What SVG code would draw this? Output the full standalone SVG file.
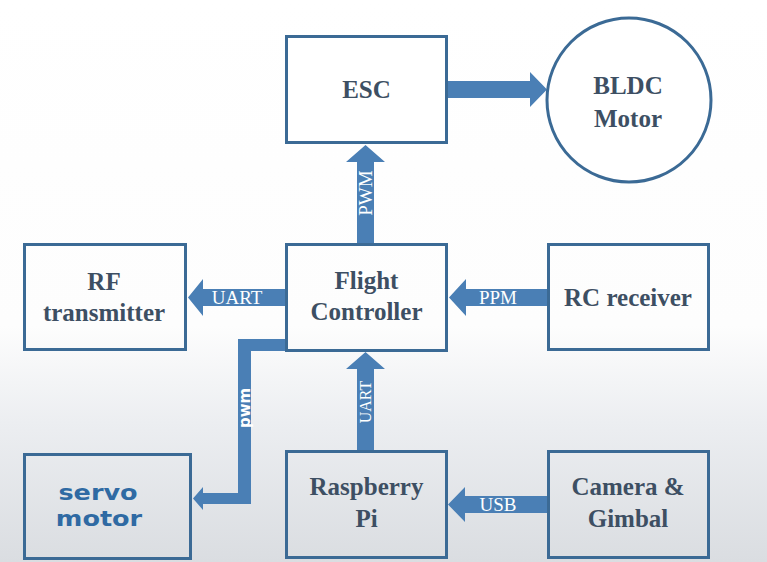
<svg xmlns="http://www.w3.org/2000/svg" width="767" height="562" viewBox="0 0 767 562">
<defs>
<linearGradient id="bg" x1="0" y1="0" x2="0" y2="1">
<stop offset="0" stop-color="#ffffff"/>
<stop offset="0.58" stop-color="#fdfdfd"/>
<stop offset="0.75" stop-color="#eceef1"/>
<stop offset="1" stop-color="#dadde1"/>
</linearGradient>
<style>
.box{fill:none;stroke:#3b6a95;stroke-width:3}
.wbox{fill:#ffffff;stroke:#3b6a95;stroke-width:3}
.t{font-family:'Liberation Serif','DejaVu Serif','Times New Roman',serif;font-weight:bold;font-size:25px;fill:#3d4f63;text-anchor:middle}
.s{font-family:'DejaVu Sans',Verdana,sans-serif;font-weight:bold;font-size:22px;fill:#2f6aa3;text-anchor:middle}
.arr{fill:#4a7fb5}
.lbl{font-family:'Liberation Serif','DejaVu Serif','Times New Roman',serif;font-size:19px;fill:#ffffff;text-anchor:middle}
.lbls{font-family:'DejaVu Sans',Verdana,sans-serif;font-weight:bold;font-size:15px;fill:#ffffff;text-anchor:middle}
</style>
</defs>
<rect x="0" y="0" width="767" height="562" fill="url(#bg)"/>

<g id="connectors">
<polygon class="arr" points="448,81 530,81 530,72 547,89.5 530,107 530,98 448,98"/>
<polygon class="arr" points="357,243 357,162 346,162 365.5,145 385,162 374,162 374,243"/>
<text class="lbl" transform="translate(372,193) rotate(-90)">PWM</text>
<polygon class="arr" points="285,289 203,289 203,279 188,297.5 203,316 203,306 285,306"/>
<text class="lbl" x="237" y="304">UART</text>
<polygon class="arr" points="547,289 466,289 466,279 449,297.5 466,316 466,306 547,306"/>
<text class="lbl" x="498" y="304">PPM</text>
<polygon class="arr" points="357,450 357,369 346,369 365.5,352 385,369 374,369 374,450"/>
<text class="lbl" style="font-size:16px" transform="translate(371,402) rotate(-90)">UART</text>
<polygon class="arr" points="547,496 465,496 465,487 448,504.5 465,522 465,513 547,513"/>
<text class="lbl" x="498" y="511">USB</text>
<polygon class="arr" points="285,339 238,339 238,493 203,493 203,487 193,498.5 203,510 203,504 251,504 251,351 285,351"/>
<text class="lbls" transform="translate(249.5,408) rotate(-90)">pwm</text>
</g>

<g id="esc">
<rect class="wbox" x="286.5" y="36.5" width="160" height="106"/>
<text class="t" x="366.5" y="98">ESC</text>
</g>
<g id="bldc">
<circle class="wbox" cx="629" cy="100" r="82"/>
<text class="t" x="628" y="94">BLDC</text>
<text class="t" x="628" y="127">Motor</text>
</g>
<g id="rf">
<rect class="box" x="24.5" y="244.5" width="161" height="105"/>
<text class="t" x="104" y="290">RF</text>
<text class="t" x="104" y="321">transmitter</text>
</g>
<g id="fc">
<rect class="box" x="286.5" y="244.5" width="160" height="106"/>
<text class="t" x="366.5" y="289">Flight</text>
<text class="t" x="366.5" y="320">Controller</text>
</g>
<g id="rc">
<rect class="box" x="548.5" y="244.5" width="160" height="105"/>
<text class="t" x="628" y="306">RC receiver</text>
</g>
<g id="servo">
<rect class="box" x="24.5" y="454.5" width="166" height="104"/>
<text class="s" transform="translate(98,500) scale(1.16,1)">servo</text>
<text class="s" transform="translate(99,526) scale(1.16,1)">motor</text>
</g>
<g id="rpi">
<rect class="box" x="286.5" y="451.5" width="160" height="106"/>
<text class="t" x="366.5" y="495">Raspberry</text>
<text class="t" x="366.5" y="527">Pi</text>
</g>
<g id="camera">
<rect class="box" x="548.5" y="451.5" width="160" height="106"/>
<text class="t" x="628" y="495">Camera &amp;</text>
<text class="t" x="628" y="527">Gimbal</text>
</g>
</svg>
